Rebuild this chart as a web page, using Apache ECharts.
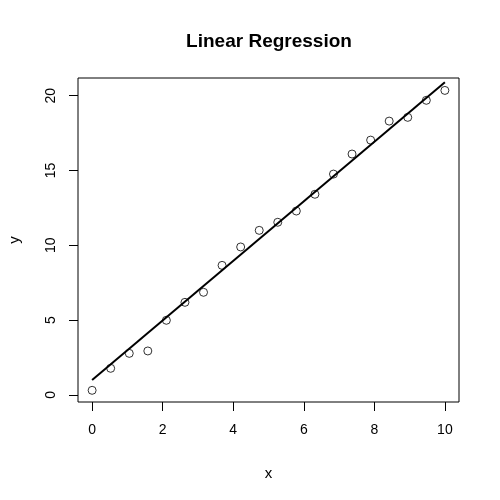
<!DOCTYPE html>
<html>
<head>
<meta charset="utf-8">
<script src="https://cdn.jsdelivr.net/npm/echarts@6/dist/echarts.min.js"></script>
<style>html,body{margin:0;padding:0;background:#fff}#c{width:500px;height:500px}</style>
</head>
<body>
<div id="c"></div>
<script>
const xValues = [0, 0.526, 1.053, 1.579, 2.105, 2.632, 3.158, 3.684, 4.211, 4.737, 5.263, 5.789, 6.316, 6.842, 7.368, 7.895, 8.421, 8.947, 9.474, 10];
const yValues = [0.31, 1.78, 2.78, 2.94, 4.99, 6.19, 6.86, 8.66, 9.89, 11.0, 11.54, 12.29, 13.41, 14.76, 16.10, 17.03, 18.30, 18.55, 19.69, 20.35];
const fitX = [0, 10];
const fitY = [1.0, 20.89];
const xTicks = [0, 2, 4, 6, 8, 10];
const yTicks = [0, 5, 10, 15, 20];
const titleText = 'Linear Regression';
const xName = 'x';
const yName = 'y';

const font = 'Liberation Sans, Arial, sans-serif';
const chart = echarts.init(document.getElementById('c'), null, {renderer: 'canvas'});
chart.setOption({
  animation: false,
  backgroundColor: '#fff',
  title: {
    text: titleText, left: 264, top: 27, textAlign: 'center',
    textStyle: {fontFamily: font, fontWeight: 'bold', fontSize: 19, color: '#000'}
  },
  grid: {left: 78, top: 78, right: 41, bottom: 98, show: true, borderColor: '#000', borderWidth: 1, backgroundColor: 'transparent', containLabel: false, outerBoundsMode: 'none'},
  xAxis: {
    type: 'value', min: -0.4, max: 10.4,
    name: xName, nameLocation: 'middle', nameGap: 64,
    nameTextStyle: {fontFamily: font, fontSize: 15, color: '#000'},
    axisLine: {show: false, onZero: false},
    splitLine: {show: false},
    axisTick: {show: true, length: 9, customValues: xTicks, lineStyle: {color: '#000', width: 1}},
    axisLabel: {customValues: xTicks, margin: 21, fontFamily: font, fontSize: 14, color: '#000'}
  },
  yAxis: {
    type: 'value', min: -0.47, max: 21.18,
    name: yName, nameLocation: 'middle', nameGap: 56, nameRotate: 90,
    nameTextStyle: {fontFamily: font, fontSize: 15, color: '#000'},
    axisLine: {show: false, onZero: false},
    splitLine: {show: false},
    axisTick: {show: true, length: 9, customValues: yTicks, lineStyle: {color: '#000', width: 1}},
    axisLabel: {customValues: yTicks, rotate: 90, margin: 20, fontFamily: font, fontSize: 14, color: '#000'}
  },
  series: [
    {
      type: 'scatter', data: xValues.map((x, i) => [x, yValues[i]]),
      symbol: 'circle', symbolSize: 8,
      itemStyle: {color: 'rgba(255,255,255,0)', borderColor: '#000', borderWidth: 1},
      z: 3
    },
    {
      type: 'line', data: fitX.map((x, i) => [x, fitY[i]]),
      symbol: 'none', lineStyle: {color: '#000', width: 2}, z: 2
    }
  ]
});
</script>
</body>
</html>
